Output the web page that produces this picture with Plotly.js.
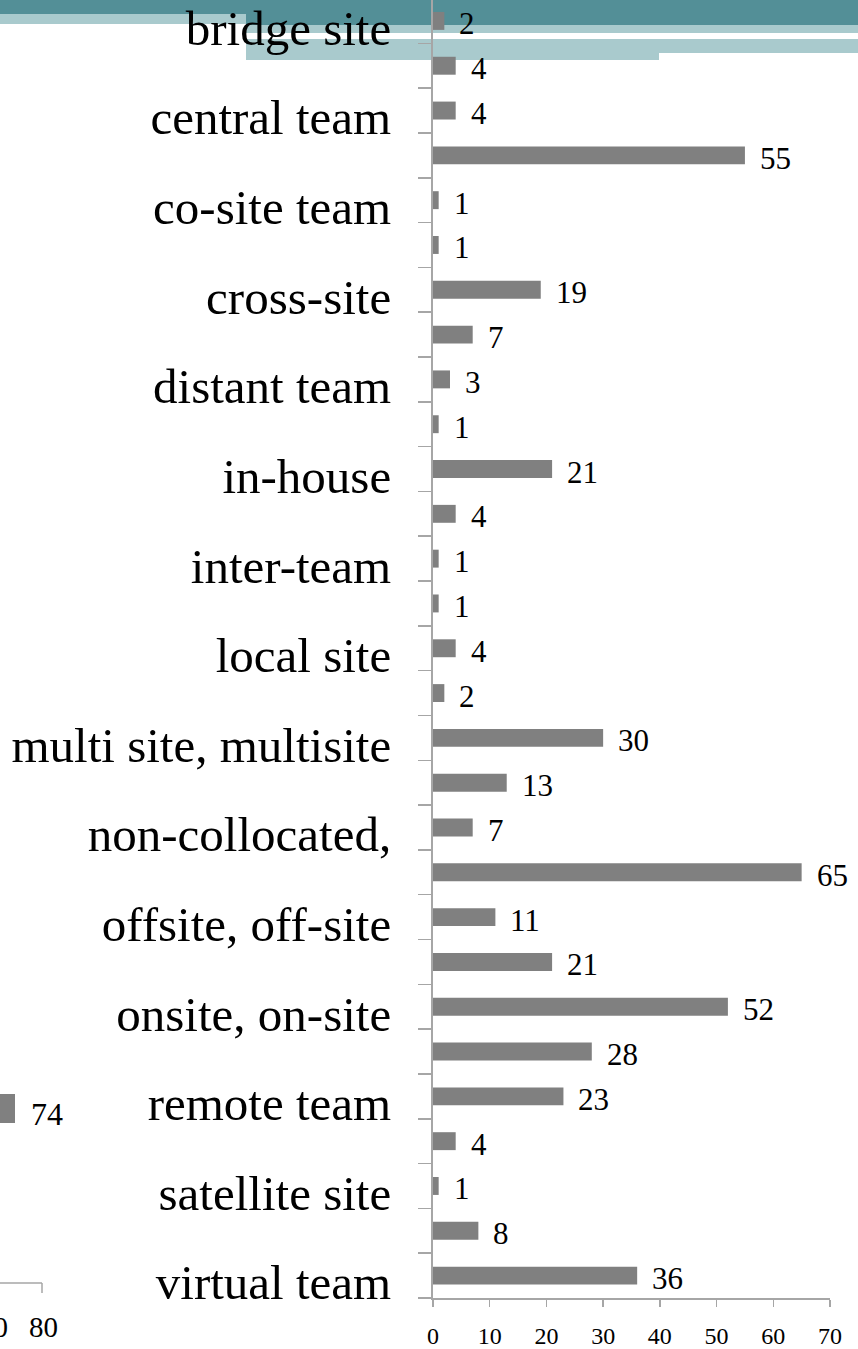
<!DOCTYPE html>
<html>
<head>
<meta charset="utf-8">
<script src="https://cdn.plot.ly/plotly-3.0.1.min.js"></script>
<style>
html,body{margin:0;padding:0;background:#fff;overflow:hidden;}
#chart{width:858px;height:1349px;}
</style>
</head>
<body>
<div id="chart"></div>
<script>
// ---- data ----
const labels = ["bridge site","central team","co-site team","cross-site","distant team","in-house","inter-team","local site","multi site, multisite","non-collocated,","offsite, off-site","onsite, on-site","remote team","satellite site","virtual team"];
// 29 bars: every labelled category is followed by an unlabelled one
const values = [2,4, 4,55, 1,1, 19,7, 3,1, 21,4, 1,1, 4,2, 30,13, 7,65, 11,21, 52,28, 23,4, 1,8, 36];
const xTicks = [0,10,20,30,40,50,60,70];

// ---- geometry ----
const W = 858, H = 1349;
const mL = 433, mR = 28, mT = 0, mB = 51;
const plotW = W - mL - mR, plotH = H - mT - mB;
const px = x => (x - mL) / plotW;
const py = y => (H - mB - y) / plotH;

const n = values.length;
const idx = values.map((v, i) => i);
const labelPos = labels.map((l, i) => 2 * i + 0.15);
const boundaries = [];
for (let i = -1; i < n; i++) boundaries.push(i + 0.5);
const yRange = [n - 0.5, -0.467];

const grey = '#a6a6a6';
const serif = '"Liberation Serif", "Times New Roman", Times, serif';
const dark = '#538f97', light = '#a9cacd';

const trace = {
  type: 'bar', orientation: 'h',
  x: values, y: idx,
  width: 0.4,
  marker: {color: '#808080'},
  hoverinfo: 'skip', cliponaxis: false
};

const annotations = values.map((v, i) => ({
  x: v, y: i, xref: 'x', yref: 'y',
  text: String(v), showarrow: false,
  xanchor: 'left', yanchor: 'middle', xshift: 13, yshift: -3,
  font: {family: serif, size: 31, color: '#000'}
}));

// partial neighbouring chart at the left edge
annotations.push({x: px(29), y: py(1114), xref: 'paper', yref: 'paper', text: '74', showarrow: false,
  xanchor: 'left', yanchor: 'middle', font: {family: serif, size: 32, color: '#000'}});
annotations.push({x: px(27), y: py(1327), xref: 'paper', yref: 'paper', text: '80', showarrow: false,
  xanchor: 'left', yanchor: 'middle', font: {family: serif, size: 29, color: '#000'}});
annotations.push({x: px(10), y: py(1327), xref: 'paper', yref: 'paper', text: '70', showarrow: false,
  xanchor: 'right', yanchor: 'middle', font: {family: serif, size: 29, color: '#000'}});

const rect = (x0, y0, x1, y1, color) => ({
  type: 'rect', xref: 'paper', yref: 'paper', layer: 'below',
  x0: px(x0), x1: px(x1), y0: py(y0), y1: py(y1),
  fillcolor: color, line: {width: 0}
});
const line = (x0, y0, x1, y1) => ({
  type: 'line', xref: 'paper', yref: 'paper', layer: 'below',
  x0: px(x0), x1: px(x1), y0: py(y0), y1: py(y1),
  line: {color: grey, width: 1.5}
});

const shapes = [
  rect(0, 0, 858, 14, dark),
  rect(246, 14, 858, 25, dark),
  rect(0, 14, 246, 24, light),
  rect(246, 25, 858, 33, light),
  rect(246, 39, 858, 53, light),
  rect(246, 53, 659, 60, light),
  rect(-5, 1094, 15, 1123, '#808080'),
  line(-5, 1283, 42, 1283),
  line(42, 1283, 42, 1293)
];

const layout = {
  width: W, height: H,
  margin: {l: mL, r: mR, t: mT, b: mB, pad: 0},
  paper_bgcolor: '#ffffff', plot_bgcolor: 'rgba(0,0,0,0)',
  showlegend: false,
  bargap: 0.6,
  font: {family: serif, color: '#000'},
  xaxis: {
    range: [0, 70], tickvals: xTicks, ticktext: xTicks.map(String),
    showgrid: false, zeroline: false,
    showline: true, linecolor: grey, linewidth: 2,
    ticks: 'outside', ticklen: 7, tickcolor: grey, tickwidth: 1.5,
    tickfont: {family: serif, size: 24, color: '#000'},
    ticklabelstandoff: 8, ticklabeloverflow: 'allow',
    automargin: false, fixedrange: true
  },
  yaxis: {
    range: yRange, tickvals: labelPos, ticktext: labels,
    showgrid: false, zeroline: false,
    showline: true, linecolor: grey, linewidth: 2,
    ticks: '', tickfont: {family: serif, size: 49, color: '#000'},
    ticklabelstandoff: 30, ticklabeloverflow: 'allow',
    automargin: false, fixedrange: true
  },
  yaxis2: {
    overlaying: 'y', side: 'left', anchor: 'x',
    range: yRange, tickvals: boundaries,
    showticklabels: false, showgrid: false, zeroline: false, showline: false,
    ticks: 'outside', ticklen: 14, tickcolor: grey, tickwidth: 1.5,
    automargin: false, fixedrange: true
  },
  annotations: annotations,
  shapes: shapes
};

const dummy = {type: 'scatter', x: [0], y: [0], yaxis: 'y2', mode: 'markers',
  marker: {opacity: 0}, hoverinfo: 'skip', showlegend: false};

Plotly.newPlot('chart', [trace, dummy], layout, {displayModeBar: false, staticPlot: true});
</script>
</body>
</html>
